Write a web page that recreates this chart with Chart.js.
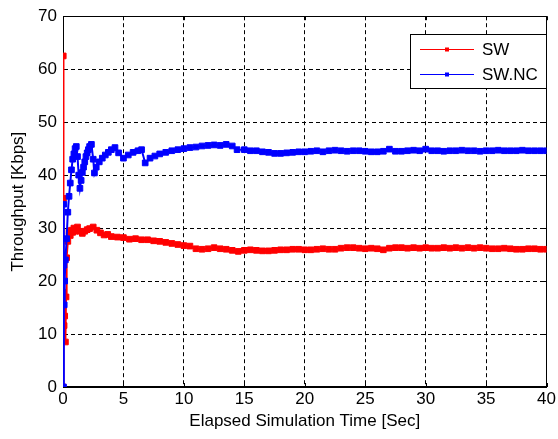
<!DOCTYPE html>
<html>
<head>
<meta charset="utf-8">
<title>Throughput SW vs SW.NC</title>
<script src="https://cdn.jsdelivr.net/npm/chart.js@4/dist/chart.umd.min.js"></script>
<style>
  body { margin: 0; background: #fff; }
  #grafico { display: block; }
</style>
</head>
<body>
<canvas id="grafico" width="558" height="439"></canvas>
<script>
// tiempos (seg) y throughput (Kbps) de cada serie
var swTiempo = [0, 0.02, 0.04, 0.06, 0.09, 0.14, 0.2, 0.25, 0.3, 0.4, 0.5, 0.6, 0.7, 0.8, 0.9, 1.0, 1.2, 1.4, 1.6, 1.8,
  2.0, 2.2, 2.5, 2.8, 3.1, 3.4, 3.7, 4.0, 4.5, 5.0, 5.5, 6.0, 6.5, 7.0, 7.5, 8.0, 8.5, 9.0, 9.5, 10,
  10.5, 11, 11.5, 12, 12.5, 13, 13.5, 14, 14.5, 15, 15.5, 16, 16.5, 17, 17.5, 18, 18.5, 19, 19.5, 20,
  20.5, 21, 21.5, 22, 22.5, 23, 23.5, 24, 24.5, 25, 25.5, 26, 26.5, 27, 27.5, 28, 28.5, 29, 29.5, 30,
  30.5, 31, 31.5, 32, 32.5, 33, 33.5, 34, 34.5, 35, 35.5, 36, 36.5, 37, 37.5, 38, 38.5, 39, 39.5, 40];
var swValores = [0, 62.5, 35.6, 17.9, 11.6, 13.4, 8.5, 17, 24.4, 27.5, 29.3, 28.6, 29.6, 29.2, 30, 29.4, 30.2, 29.4, 29.0, 29.4,
  29.7, 29.9, 30.2, 29.6, 29.1, 28.7, 28.8, 28.4, 28.3, 28.2, 27.9, 28.0, 27.8, 27.8, 27.6, 27.5, 27.3, 27.1, 26.9, 26.7,
  26.6, 26.1, 26.0, 26.1, 26.3, 26.1, 26.0, 25.8, 25.6, 25.8, 25.9, 25.8, 25.7, 25.7, 25.8, 25.9, 25.9, 26.0, 26.0, 25.9,
  25.9, 26.0, 26.1, 26.0, 26.0, 26.2, 26.3, 26.3, 26.2, 26.1, 26.2, 26.1, 25.9, 26.2, 26.3, 26.3, 26.2, 26.3, 26.2, 26.3,
  26.2, 26.2, 26.3, 26.2, 26.3, 26.2, 26.3, 26.2, 26.3, 26.2, 26.1, 26.1, 26.2, 26.1, 26.0, 26.0, 26.1, 26.1, 26.0, 26.0];

var ncTiempo = [0.04, 0.06, 0.08, 0.1, 0.14, 0.2, 0.3, 0.4, 0.5, 0.6, 0.7, 0.8, 0.9, 1.0, 1.1, 1.2, 1.3, 1.4, 1.5, 1.6,
  1.7, 1.8, 1.9, 2.0, 2.1, 2.2, 2.35, 2.5, 2.6, 2.75, 3.0, 3.25, 3.5, 3.75, 4.0, 4.3, 4.6, 5.0, 5.4, 5.8,
  6.2, 6.5, 6.8, 7.2, 7.6, 8.0, 8.5, 9.0, 9.5, 10, 10.5, 11, 11.5, 12, 12.5, 13, 13.5, 14, 14.4, 15,
  15.5, 16, 16.5, 17, 17.5, 18, 18.5, 19, 19.5, 20, 20.5, 21, 21.5, 22, 22.5, 23, 23.5, 24, 24.5, 25,
  25.5, 26, 26.5, 27, 27.5, 28, 28.5, 29, 29.5, 30, 30.5, 31, 31.5, 32, 32.5, 33, 33.5, 34, 34.5, 35,
  35.5, 36, 36.5, 37, 37.5, 38, 38.5, 39, 39.5, 40];
var ncValores = [0, 34.5, 23, 15.5, 20, 24, 28, 33, 36, 38.5, 41, 43, 44, 45, 45.4, 43.5, 40, 37.5, 39, 40.5,
  41.5, 42.5, 43.5, 44.2, 44.8, 45.4, 45.8, 43, 40.4, 41.5, 42.5, 43.2, 43.8, 44.3, 44.8, 45.2, 44.2, 43.2, 43.8, 44.3,
  44.6, 44.8, 42.3, 43.2, 43.6, 44.0, 44.3, 44.6, 44.8, 45.0, 45.2, 45.3, 45.5, 45.6, 45.7, 45.6, 45.8, 45.5, 44.8, 44.8,
  44.6, 44.6, 44.4, 44.3, 44.1, 44.1, 44.2, 44.3, 44.4, 44.4, 44.5, 44.6, 44.4, 44.6, 44.7, 44.6, 44.5, 44.6, 44.6, 44.5,
  44.4, 44.4, 44.5, 44.9, 44.5, 44.5, 44.6, 44.7, 44.6, 44.9, 44.6, 44.6, 44.5, 44.6, 44.6, 44.7, 44.6, 44.6, 44.5, 44.6,
  44.6, 44.7, 44.6, 44.6, 44.6, 44.7, 44.6, 44.6, 44.6, 44.6];

var etiquetas = ["SW", "SW.NC"];
var colores = ["#ff0000", "#0000ff"];

var fuente = "'Liberation Sans', Arial, Helvetica, sans-serif";
var tamFuente = 17;

function armarPuntos(tiempo, valores) {
    var puntos = [];
    for (var i = 0; i < tiempo.length; i++) {
        puntos.push({ x: tiempo[i], y: valores[i] });
    }
    return puntos;
}

function serie(indice, tiempo, valores) {
    return {
        label: etiquetas[indice],
        data: armarPuntos(tiempo, valores),
        borderColor: colores[indice],
        backgroundColor: colores[indice],
        borderWidth: 2,
        pointStyle: "rect",
        pointRadius: 4,
        pointBorderWidth: 1,
        pointBackgroundColor: colores[indice],
        pointBorderColor: colores[indice],
        tension: 0
    };
}

// marco completo y marcas de graduacion hacia adentro (debajo de las series)
var marcoPlugin = {
    id: "marco",
    beforeDatasetsDraw: function (chart) {
        var ctx = chart.ctx;
        var area = chart.chartArea;
        var sx = chart.scales.x;
        var sy = chart.scales.y;
        ctx.save();
        ctx.strokeStyle = "#000";
        ctx.lineWidth = 1;
        ctx.setLineDash([]);
        ctx.strokeRect(Math.round(area.left) + 0.5, Math.round(area.top) + 0.5,
            Math.round(area.right - area.left) - 1, Math.round(area.bottom - area.top) - 1);
        ctx.beginPath();
        sx.ticks.forEach(function (t) {
            var px = Math.round(sx.getPixelForValue(t.value)) + 0.5;
            ctx.moveTo(px, area.bottom);
            ctx.lineTo(px, area.bottom - 4);
            ctx.moveTo(px, area.top);
            ctx.lineTo(px, area.top + 4);
        });
        sy.ticks.forEach(function (t) {
            var py = Math.round(sy.getPixelForValue(t.value)) + 0.5;
            ctx.moveTo(area.left, py);
            ctx.lineTo(area.left + 4, py);
            ctx.moveTo(area.right, py);
            ctx.lineTo(area.right - 4, py);
        });
        ctx.stroke();
        ctx.restore();
    }
};

// leyenda en recuadro, arriba a la derecha
var leyendaPlugin = {
    id: "leyendaCaja",
    afterDraw: function (chart) {
        var ctx = chart.ctx;
        var x0 = 410, y0 = 34, ancho = 136, alto = 54;
        ctx.save();
        ctx.fillStyle = "#fff";
        ctx.fillRect(x0, y0, ancho, alto);
        ctx.strokeStyle = "#000";
        ctx.lineWidth = 1;
        ctx.strokeRect(x0 + 0.5, y0 + 0.5, ancho, alto);
        etiquetas.forEach(function (texto, i) {
            var y = y0 + 15.5 + i * 25;
            ctx.strokeStyle = colores[i];
            ctx.beginPath();
            ctx.moveTo(x0 + 10, y);
            ctx.lineTo(x0 + 64, y);
            ctx.stroke();
            ctx.fillStyle = colores[i];
            ctx.fillRect(x0 + 35, y - 2, 4, 4);
            ctx.fillStyle = "#000";
            ctx.font = tamFuente + "px " + fuente;
            ctx.textBaseline = "middle";
            ctx.textAlign = "left";
            ctx.fillText(texto, x0 + 72, y + 1);
        });
        ctx.restore();
    }
};

var ctx = document.getElementById("grafico").getContext("2d");

new Chart(ctx, {
    type: "line",
    data: {
        datasets: [
            serie(1, ncTiempo, ncValores),
            serie(0, swTiempo, swValores)
        ]
    },
    options: {
        responsive: false,
        animation: false,
        devicePixelRatio: 1,
        layout: { padding: { top: 14, right: 10, left: 0, bottom: 0 } },
        plugins: {
            legend: { display: false },
            tooltip: { enabled: false }
        },
        scales: {
            x: {
                type: "linear",
                min: 0,
                max: 40,
                afterFit: function (scale) { scale.height = 52; },
                ticks: {
                    stepSize: 5,
                    padding: 2,
                    color: "#000",
                    maxRotation: 0,
                    font: { family: fuente, size: tamFuente }
                },
                grid: { color: "#000", lineWidth: 1, drawTicks: false },
                border: { display: true, color: "#000", width: 1, dash: [4, 3] },
                title: {
                    display: true,
                    text: "Elapsed Simulation Time [Sec]",
                    color: "#000",
                    font: { family: fuente, size: tamFuente },
                    padding: { top: 0, bottom: 7 }
                }
            },
            y: {
                min: 0,
                max: 70,
                afterFit: function (scale) { scale.width = 63; },
                ticks: {
                    stepSize: 10,
                    padding: 6,
                    color: "#000",
                    font: { family: fuente, size: tamFuente }
                },
                grid: { color: "#000", lineWidth: 1, drawTicks: false },
                border: { display: true, color: "#000", width: 1, dash: [4, 3] },
                title: {
                    display: true,
                    text: "Throughput [Kbps]",
                    color: "#000",
                    font: { family: fuente, size: tamFuente },
                    padding: { top: 8, bottom: 0 }
                }
            }
        }
    },
    plugins: [marcoPlugin, leyendaPlugin]
});
</script>
</body>
</html>
